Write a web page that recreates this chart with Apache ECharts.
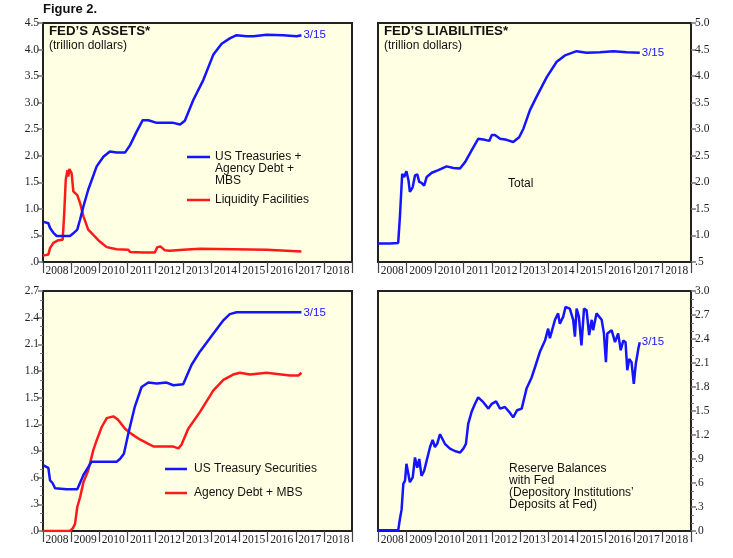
<!DOCTYPE html>
<html>
<head>
<meta charset="utf-8">
<script src="https://cdn.jsdelivr.net/npm/echarts@6/dist/echarts.min.js"></script>
<style>
  html, body { margin: 0; padding: 0; background: #fff; }
  #main { width: 733px; height: 558px; }
</style>
</head>
<body>
<div id="main"></div>
<script>
// 年份标签
var years = ['2008', '2009', '2010', '2011', '2012', '2013', '2014', '2015', '2016', '2017', '2018'];

// 资产：国债 + 机构债 + MBS（万亿美元）
var assetsSecurities = [
    [2008.0, 0.76], [2008.19, 0.73], [2008.25, 0.64], [2008.37, 0.55], [2008.49, 0.49],
    [2008.96, 0.49], [2009.08, 0.54], [2009.22, 0.61], [2009.32, 0.80], [2009.44, 1.05],
    [2009.61, 1.36], [2009.91, 1.80], [2010.15, 1.98], [2010.38, 2.08], [2010.62, 2.06],
    [2010.92, 2.06], [2011.1, 2.20], [2011.33, 2.45], [2011.55, 2.67], [2011.75, 2.67],
    [2012.05, 2.62], [2012.64, 2.62], [2012.88, 2.59], [2013.05, 2.66], [2013.35, 3.05],
    [2013.71, 3.43], [2014.06, 3.90], [2014.36, 4.11], [2014.65, 4.21], [2014.89, 4.27],
    [2015.25, 4.25], [2015.49, 4.25], [2015.96, 4.28], [2016.55, 4.27], [2017.03, 4.25],
    [2017.2, 4.27]
];

// 资产：流动性工具
var assetsLiquidity = [
    [2008.0, 0.12], [2008.19, 0.14], [2008.25, 0.26], [2008.37, 0.36], [2008.55, 0.41],
    [2008.70, 0.42], [2008.75, 0.86], [2008.81, 1.55], [2008.87, 1.73], [2008.90, 1.61],
    [2008.94, 1.75], [2009.02, 1.67], [2009.08, 1.33], [2009.22, 1.26], [2009.32, 1.11],
    [2009.44, 0.86], [2009.61, 0.61], [2009.79, 0.51], [2010.03, 0.38], [2010.27, 0.28],
    [2010.62, 0.24], [2011.04, 0.23], [2011.1, 0.19], [2011.57, 0.18], [2011.98, 0.18],
    [2012.07, 0.28], [2012.19, 0.29], [2012.34, 0.22], [2012.52, 0.21], [2012.99, 0.23],
    [2013.59, 0.25], [2014.77, 0.24], [2015.96, 0.23], [2017.2, 0.20]
];

// 负债：总额
var liabilitiesTotal = [
    [2008.0, 0.85], [2008.42, 0.85], [2008.71, 0.86], [2008.77, 1.35], [2008.85, 2.16],
    [2008.92, 2.10], [2009.0, 2.21], [2009.07, 2.04], [2009.12, 1.82], [2009.22, 1.91],
    [2009.30, 2.13], [2009.38, 2.15], [2009.45, 2.01], [2009.53, 1.99], [2009.62, 1.94],
    [2009.71, 2.10], [2009.89, 2.18], [2010.12, 2.23], [2010.41, 2.30], [2010.65, 2.27],
    [2010.88, 2.26], [2011.06, 2.38], [2011.29, 2.60], [2011.52, 2.82], [2011.76, 2.80],
    [2011.91, 2.78], [2012.0, 2.89], [2012.11, 2.89], [2012.29, 2.82], [2012.52, 2.80],
    [2012.75, 2.76], [2012.96, 2.85], [2013.11, 3.01], [2013.34, 3.36], [2013.57, 3.61],
    [2013.93, 3.98], [2014.28, 4.27], [2014.57, 4.39], [2014.98, 4.47], [2015.33, 4.44],
    [2015.80, 4.45], [2016.27, 4.47], [2016.74, 4.45], [2017.2, 4.44]
];

// 资产：美国国债
var treasurySecurities = [
    [2008.0, 0.74], [2008.19, 0.71], [2008.25, 0.57], [2008.34, 0.54], [2008.43, 0.48],
    [2008.84, 0.47], [2009.22, 0.47], [2009.44, 0.63], [2009.73, 0.78], [2010.03, 0.78],
    [2010.62, 0.78], [2010.74, 0.81], [2010.88, 0.87], [2011.04, 1.10], [2011.27, 1.40],
    [2011.51, 1.62], [2011.75, 1.67], [2012.05, 1.66], [2012.40, 1.67], [2012.64, 1.64],
    [2012.99, 1.65], [2013.29, 1.87], [2013.59, 2.02], [2014.06, 2.22], [2014.42, 2.37],
    [2014.65, 2.44], [2014.89, 2.46], [2015.96, 2.46], [2017.2, 2.46]
];

// 资产：机构债 + MBS
var agencyMbs = [
    [2008.0, 0.0], [2008.96, 0.0], [2009.06, 0.03], [2009.14, 0.08], [2009.22, 0.27],
    [2009.32, 0.38], [2009.44, 0.55], [2009.61, 0.68], [2009.79, 0.91], [2009.91, 1.02],
    [2010.09, 1.17], [2010.27, 1.27], [2010.50, 1.29], [2010.68, 1.25], [2010.92, 1.15],
    [2011.16, 1.09], [2011.45, 1.03], [2011.75, 0.98], [2011.95, 0.95], [2012.40, 0.95],
    [2012.64, 0.95], [2012.82, 0.93], [2012.93, 0.97], [2013.17, 1.15], [2013.59, 1.34],
    [2014.06, 1.58], [2014.42, 1.70], [2014.77, 1.76], [2015.01, 1.78], [2015.37, 1.76],
    [2015.96, 1.78], [2016.79, 1.75], [2017.09, 1.75], [2017.2, 1.78]
];

// 负债：准备金余额
var reserveBalances = [
    [2008.0, 0.01], [2008.71, 0.01], [2008.77, 0.15], [2008.83, 0.27], [2008.89, 0.59],
    [2008.95, 0.63], [2009.0, 0.84], [2009.07, 0.86], [2009.12, 0.61], [2009.22, 0.67],
    [2009.30, 0.92], [2009.38, 0.79], [2009.45, 0.90], [2009.53, 0.69], [2009.62, 0.75],
    [2009.71, 0.88], [2009.83, 1.05], [2009.92, 1.14], [2010.0, 1.05], [2010.08, 1.09],
    [2010.18, 1.21], [2010.35, 1.09], [2010.53, 1.03], [2010.70, 1.00], [2010.88, 0.98],
    [2011.0, 1.03], [2011.09, 1.09], [2011.17, 1.34], [2011.29, 1.49], [2011.41, 1.59],
    [2011.52, 1.67], [2011.70, 1.61], [2011.88, 1.53], [2012.0, 1.59], [2012.15, 1.62],
    [2012.29, 1.53], [2012.46, 1.55], [2012.61, 1.49], [2012.75, 1.42], [2012.89, 1.51],
    [2013.05, 1.53], [2013.22, 1.78], [2013.40, 1.92], [2013.52, 2.05], [2013.69, 2.24],
    [2013.87, 2.38], [2013.98, 2.53], [2014.04, 2.41], [2014.22, 2.64], [2014.33, 2.72],
    [2014.39, 2.59], [2014.51, 2.68], [2014.59, 2.80], [2014.74, 2.78], [2014.86, 2.64],
    [2014.92, 2.43], [2014.98, 2.78], [2015.06, 2.68], [2015.15, 2.32], [2015.24, 2.78],
    [2015.33, 2.76], [2015.42, 2.45], [2015.51, 2.64], [2015.56, 2.51], [2015.68, 2.72],
    [2015.86, 2.64], [2015.94, 2.47], [2016.01, 2.11], [2016.06, 2.47], [2016.21, 2.51],
    [2016.33, 2.36], [2016.44, 2.47], [2016.53, 2.26], [2016.62, 2.38], [2016.70, 2.36],
    [2016.76, 2.01], [2016.83, 2.15], [2016.91, 2.11], [2016.99, 1.84], [2017.06, 2.09],
    [2017.15, 2.28], [2017.2, 2.36]
];

var BLUE = '#1414ff';
var RED = '#ff1a1a';
var BG = '#ffffe3';
var SANS = 'Liberation Sans, Arial, sans-serif';
var SERIF = 'Liberation Serif, Times New Roman, serif';

function yFmt(v) {
    var s = v.toFixed(1);
    return v < 1 ? s.replace(/^0/, '') : s;
}

var grids = [
    { left: 43, top: 23, width: 309, height: 239 },
    { left: 378, top: 23, width: 313, height: 239 },
    { left: 43, top: 291, width: 309, height: 240 },
    { left: 378, top: 291, width: 313, height: 240 }
];

var yConf = [
    { min: 0, max: 4.5, interval: 0.5, pos: 'left', minor: false },
    { min: 0.5, max: 5.0, interval: 0.5, pos: 'right', minor: false },
    { min: 0, max: 2.7, interval: 0.3, pos: 'left', minor: true },
    { min: 0, max: 3.0, interval: 0.3, pos: 'right', minor: true }
];

var xAxes = [];
var yAxes = [];
for (var i = 0; i < 4; i++) {
    grids[i].show = true;
    grids[i].backgroundColor = BG;
    grids[i].borderColor = '#222';
    grids[i].borderWidth = 2;

    // 数值轴（隐藏），用于画线
    xAxes.push({
        type: 'value', gridIndex: i, min: 2008, max: 2019, show: false
    });
    // 类目轴，仅用于年份标签和刻度
    xAxes.push({
        type: 'category', gridIndex: i, data: years, boundaryGap: true, position: 'bottom',
        axisLine: { show: false },
        axisTick: { show: true, length: 11, lineStyle: { color: '#444', width: 1.2 } },
        axisLabel: { fontFamily: SERIF, fontSize: 11.5, color: '#222', margin: 3, interval: 0 },
        splitLine: { show: false }
    });
    var c = yConf[i];
    yAxes.push({
        type: 'value', gridIndex: i, min: c.min, max: c.max, interval: c.interval,
        position: c.pos,
        axisLine: { show: false },
        axisTick: { show: true, length: 5, lineStyle: { color: '#777', width: 1.5 } },
        minorTick: { show: c.minor, splitNumber: 3, length: 3, lineStyle: { color: '#777', width: 1 } },
        axisLabel: { fontFamily: SERIF, fontSize: 11.5, color: '#222', margin: 4, formatter: yFmt },
        splitLine: { show: false }
    });
}

function lineSeries(name, data, idx, color, end) {
    return {
        name: name, type: 'line', xAxisIndex: idx * 2, yAxisIndex: idx,
        data: data, showSymbol: false, smooth: false,
        lineStyle: { color: color, width: 2.5 },
        itemStyle: { color: color },
        endLabel: {
            show: !!end, formatter: '3/15', color: BLUE,
            fontFamily: SANS, fontSize: 11.5, distance: 2
        },
        z: color === BLUE ? 3 : 2
    };
}

function txt(x, y, s, opt) {
    opt = opt || {};
    return {
        type: 'text', left: x, top: y, z: 10,
        style: {
            text: s, fill: opt.fill || '#111',
            font: (opt.bold ? 'bold ' : '') + (opt.size || 12) + 'px ' + SANS,
            lineHeight: opt.lh || 12
        }
    };
}

function key(x1, x2, y, color) {
    return {
        type: 'line', z: 10,
        shape: { x1: x1, y1: y, x2: x2, y2: y },
        style: { stroke: color, lineWidth: 2.5 }
    };
}

var myChart = echarts.init(document.getElementById('main'));
var option = {
    animation: false,
    backgroundColor: '#fff',
    grid: grids,
    xAxis: xAxes,
    yAxis: yAxes,
    series: [
        lineSeries('US Treasuries + Agency Debt + MBS', assetsSecurities, 0, BLUE, true),
        lineSeries('Liquidity Facilities', assetsLiquidity, 0, RED, false),
        lineSeries('Total', liabilitiesTotal, 1, BLUE, true),
        lineSeries('US Treasury Securities', treasurySecurities, 2, BLUE, true),
        lineSeries('Agency Debt + MBS', agencyMbs, 2, RED, false),
        lineSeries('Reserve Balances with Fed', reserveBalances, 3, BLUE, true)
    ],
    graphic: [
        txt(43, 3, 'Figure 2.', { bold: true, size: 13 }),
        txt(49, 25, 'FED\u2019S ASSETS*', { bold: true, size: 13.3 }),
        txt(49, 40, '(trillion dollars)', { size: 12 }),
        txt(384, 25, 'FED\u2019S LIABILITIES*', { bold: true, size: 13.3 }),
        txt(384, 40, '(trillion dollars)', { size: 12 }),

        key(187, 210, 157, BLUE),
        txt(215, 151, 'US Treasuries +\nAgency Debt +\nMBS'),
        key(187, 210, 200, RED),
        txt(215, 194, 'Liquidity Facilities'),

        txt(508, 178, 'Total'),

        key(165, 187, 469, BLUE),
        txt(194, 463, 'US Treasury Securities'),
        key(165, 187, 493, RED),
        txt(194, 487, 'Agency Debt + MBS'),

        txt(509, 463, 'Reserve Balances\nwith Fed\n(Depository Institutions\u2019\nDeposits at Fed)')
    ]
};
myChart.setOption(option);
</script>
</body>
</html>
